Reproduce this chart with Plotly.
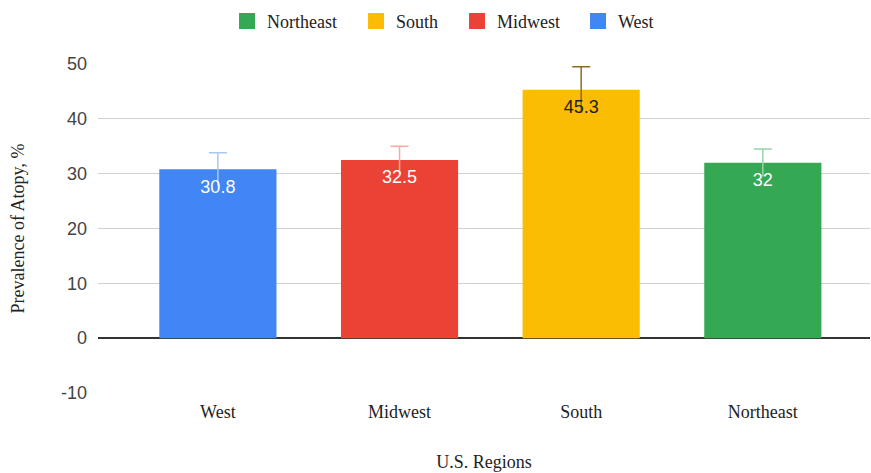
import plotly.graph_objects as go

regions = ["West", "Midwest", "South", "Northeast"]
values = [30.8, 32.5, 45.3, 32.0]
errors = [3.0, 2.5, 4.2, 2.5]
labels = ["30.8", "32.5", "45.3", "32"]
colors = ["#4285F4", "#EA4335", "#FBBC04", "#34A853"]
err_colors = ["#a8c7f7", "#f5aaa2", "#8a6d1c", "#98d3aa"]
text_colors = ["white", "white", "#222222", "white"]
legend_order = ["Northeast", "South", "Midwest", "West"]
y_tickvals = [-10, 0, 10, 20, 30, 40, 50]
y_ticktext = ["-10", "0", "10", "20", "30", "40", "50"]

SERIF = "Liberation Serif, Times New Roman, serif"
SANS = "Liberation Sans, Arial, sans-serif"
LEGEND_WIDTHS = {"Northeast": 84, "South": 56, "Midwest": 76, "West": 50}

fig = go.Figure()
# bars with the error-bar caps
for i, name in enumerate(regions):
    fig.add_trace(go.Bar(
        x=[name], y=[values[i]], name=name, showlegend=False,
        marker=dict(color=colors[i], line=dict(width=0)),
        width=0.645,
        error_y=dict(type="data", symmetric=False, array=[errors[i]],
                     arrayminus=[-errors[i]], visible=True,
                     color=err_colors[i], thickness=1.5, width=9),
    ))
# vertical interval lines (no lower cap) + data labels just inside the bar top
for i, name in enumerate(regions):
    fig.add_trace(go.Scatter(
        x=[name], y=[values[i]], mode="markers+text", showlegend=False, hoverinfo="skip",
        marker=dict(size=14, color="rgba(0,0,0,0)"),
        text=[labels[i]], textposition="bottom center",
        textfont=dict(family=SANS, size=18, color=text_colors[i]),
        error_y=dict(type="data", array=[errors[i]], visible=True,
                     color=err_colors[i], thickness=1.5, width=0),
    ))
# legend entries
for name in legend_order:
    i = regions.index(name)
    fig.add_trace(go.Scatter(
        x=[None], y=[None], mode="markers", name=name,
        legendwidth=LEGEND_WIDTHS[name],
        marker=dict(symbol="square", size=16, color=colors[i]),
    ))

fig.update_layout(
    width=871, height=473, autosize=False,
    barmode="overlay",
    plot_bgcolor="white", paper_bgcolor="white",
    margin=dict(l=98, r=1, t=64, b=80),
    showlegend=True,
    legend=dict(orientation="h", x=0.456, xanchor="center",
                y=1.13, yanchor="middle", traceorder="normal",
                font=dict(family=SERIF, size=18, color="#222222")),
    xaxis=dict(
        categoryorder="array", categoryarray=regions,
        range=[-0.66, 3.59],
        showgrid=False, showline=False, ticks="", ticklabelstandoff=6,
        tickfont=dict(family=SERIF, size=18, color="#222222"),
        title=dict(text="U.S. Regions", standoff=34,
                   font=dict(family=SERIF, size=18, color="#222222")),
    ),
    yaxis=dict(
        range=[-10, 50], tickvals=y_tickvals, ticktext=y_ticktext,
        showgrid=True, gridcolor="#d0d0d0", gridwidth=1,
        zeroline=True, zerolinecolor="#333333", zerolinewidth=1.5,
        ticks="", ticklabelstandoff=10,
        tickfont=dict(family=SANS, size=18, color="#444444"),
        title=dict(text="Prevalence of Atopy, %", standoff=31,
                   font=dict(family=SERIF, size=18, color="#222222")),
    ),
)

fig.write_html(
    "out.html",
    config={"displayModeBar": False},
    post_script="document.body.style.margin='0';document.body.style.padding='0';",
)
